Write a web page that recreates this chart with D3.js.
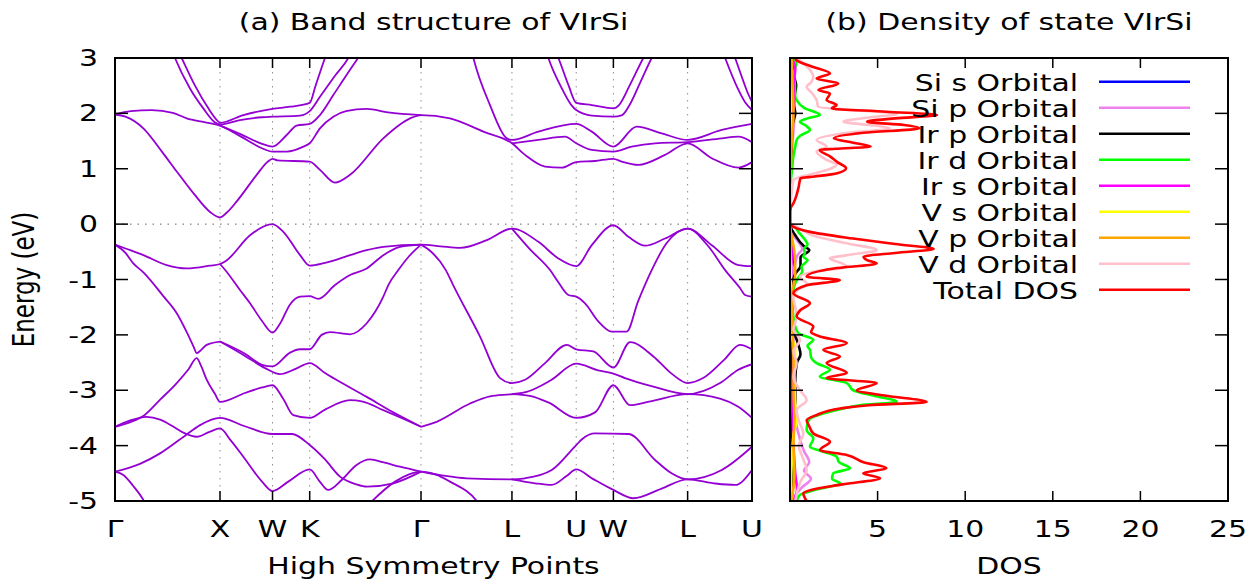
<!DOCTYPE html>
<html>
<head>
<meta charset="utf-8">
<script src="https://cdnjs.cloudflare.com/ajax/libs/d3/7.8.5/d3.min.js"></script>
<style>
body { margin: 0; background: #fff; }
text { font-family: "DejaVu Sans", sans-serif; font-size: 23px; fill: #000; }
</style>
</head>
<body>
<section></section>
<script>
// high symmetry points along the path
var kTicks = [0, 1, 1.5, 1.854, 2.914, 3.780, 4.392, 4.746, 5.453, 6.066];
var kLabels = ["Γ", "X", "W", "K", "Γ", "L", "U", "W", "L", "U"];
var energyTicks = [3, 2, 1, 0, -1, -2, -3, -4, -5];
var dosTicks = [0, 5, 10, 15, 20, 25];
var dosTickLabels = ["", "5", "10", "15", "20", "25"];

// bands, [k, E]
var cbLow = [[0,1.98],[0.1,1.94],[0.27,1.73],[0.45,1.30],[0.588,0.95],[0.75,0.55],[0.905,0.22],[1.0,0.12],[1.06,0.2],[1.159,0.41],[1.349,0.89],[1.45,1.12],[1.5,1.18],[1.55,1.15],[1.854,1.13],[1.952,0.98],[2.095,0.75],[2.238,0.89],[2.555,1.55],[2.81,1.91],[2.914,1.97],[3.19,1.91],[3.508,1.67],[3.78,1.46],[3.905,1.25],[4.095,1.04],[4.254,1.02],[4.392,1.12],[4.571,1.14],[4.746,1.18],[4.825,1.13],[4.984,1.07],[5.238,1.25],[5.453,1.46],[5.683,1.19],[5.936,1.02],[6.066,1.12]];
var cbMid = [[0,1.98],[0.15,2.04],[0.35,2.06],[0.55,2.01],[0.683,1.91],[0.85,1.84],[1.0,1.78],[1.2,1.58],[1.4,1.37],[1.5,1.31],[1.635,1.31],[1.794,1.40],[1.854,1.46],[1.952,1.73],[2.079,1.94],[2.2,2.04],[2.397,2.08],[2.6,2.02],[2.914,1.97]];
var cbMidR = [[3.78,1.46],[4.032,1.52],[4.286,1.58],[4.392,1.46],[4.54,1.34],[4.746,1.31],[4.921,1.40],[5.143,1.46],[5.453,1.48],[5.778,1.55],[5.936,1.58],[6.066,1.48]];
var cbUp = [[1.0,1.78],[1.2,1.62],[1.4,1.45],[1.5,1.40],[1.635,1.61],[1.73,1.78],[1.854,1.81],[1.952,1.97],[2.079,2.33],[2.2,2.68],[2.333,3.05]];
var cbUpR = [[3.40,3.1],[3.413,3.0],[3.571,2.15],[3.73,1.55],[3.78,1.52],[4.032,1.67],[4.392,1.81],[4.54,1.67],[4.746,1.40],[4.968,1.76],[5.206,1.64],[5.453,1.52],[5.778,1.70],[6.066,1.81]];
var cbParX1 = [[0.55,3.1],[0.571,3.0],[0.714,2.45],[0.841,2.09],[0.95,1.84],[1.0,1.80],[1.19,1.88],[1.4,1.93],[1.5,1.94],[1.762,1.96],[1.854,2.04],[1.952,2.30],[2.095,2.68],[2.222,3.0],[2.25,3.1]];
var cbParX2 = [[0.61,3.1],[0.635,3.0],[0.762,2.5],[0.886,2.1],[0.97,1.88],[1.0,1.83],[1.222,1.97],[1.5,2.08],[1.667,2.12],[1.854,2.19],[1.91,2.5],[2.0,3.0],[2.02,3.1]];
var cbParU1 = [[4.11,3.1],[4.127,3.0],[4.25,2.47],[4.35,2.14],[4.392,2.06],[4.54,1.96],[4.746,1.94],[4.83,1.97],[4.9,2.15],[5.0,2.55],[5.111,3.0],[5.14,3.1]];
var cbParU2 = [[4.2,3.1],[4.222,3.0],[4.32,2.5],[4.392,2.19],[4.54,2.15],[4.746,2.09],[4.8,2.15],[4.9,2.5],[5.031,3.0],[5.06,3.1]];
var cbParR1 = [[5.79,3.1],[5.81,3.0],[5.93,2.45],[6.0,2.2],[6.066,2.06]];
var cbParR2 = [[5.885,3.1],[5.905,3.0],[5.98,2.6],[6.03,2.35],[6.066,2.21]];

var vbTop = [[0,-0.37],[0.1,-0.44],[0.27,-0.56],[0.492,-0.74],[0.683,-0.80],[0.905,-0.75],[1.0,-0.72],[1.059,-0.66],[1.286,-0.20],[1.5,0.0],[1.603,-0.14],[1.762,-0.56],[1.854,-0.75],[2.0,-0.70],[2.238,-0.56],[2.397,-0.47],[2.555,-0.41],[2.914,-0.37],[3.1,-0.40],[3.286,-0.43],[3.54,-0.29],[3.78,-0.08],[4.032,-0.32],[4.222,-0.62],[4.392,-0.76],[4.54,-0.38],[4.746,-0.02],[4.889,-0.23],[5.048,-0.39],[5.238,-0.26],[5.453,-0.08],[5.683,-0.38],[5.936,-0.74],[6.066,-0.76]];
var vbXW = [[1.0,-0.72],[1.059,-0.85],[1.19,-1.19],[1.286,-1.43],[1.4,-1.75],[1.5,-1.96],[1.571,-1.80],[1.667,-1.45],[1.762,-1.31],[1.854,-1.30],[1.936,-1.35],[2.095,-1.10],[2.238,-0.92],[2.397,-0.80],[2.555,-0.56],[2.714,-0.41],[2.914,-0.37]];
var vbGX = [[0,-0.37],[0.1,-0.52],[0.174,-0.71],[0.27,-0.87],[0.46,-1.30],[0.588,-1.61],[0.683,-1.95],[0.75,-2.22],[0.778,-2.33],[0.81,-2.29],[0.873,-2.18],[1.0,-2.12]];
var vbP = [[1.0,-2.12],[1.238,-2.38],[1.429,-2.60],[1.571,-2.71],[1.714,-2.62],[1.854,-2.51],[2.0,-2.69],[2.079,-2.78],[2.397,-3.12],[2.65,-3.40],[2.914,-3.66]];
var vbQ = [[1.0,-2.12],[1.238,-2.34],[1.4,-2.54],[1.5,-2.57],[1.667,-2.32],[1.762,-2.26],[1.854,-2.26],[1.968,-2.00],[2.048,-1.95],[2.238,-1.99],[2.397,-1.79],[2.555,-1.31],[2.603,-1.10],[2.698,-0.83],[2.8,-0.58],[2.914,-0.37]];
var vbAnti = [[0,-3.66],[0.14,-3.58],[0.28,-3.45],[0.43,-3.17],[0.588,-2.87],[0.7,-2.62],[0.778,-2.42],[0.82,-2.56],[0.873,-2.81],[0.95,-3.06],[1.0,-3.21],[1.238,-3.05],[1.4,-2.95],[1.5,-2.91],[1.6,-3.15],[1.698,-3.45],[1.854,-3.50],[2.0,-3.35],[2.238,-3.18],[2.35,-3.20],[2.555,-3.36],[2.75,-3.52],[2.914,-3.66]];
var vbMax = [[0,-3.66],[0.14,-3.55],[0.3,-3.48],[0.43,-3.53],[0.55,-3.65],[0.667,-3.78],[0.778,-3.84],[0.9,-3.75],[1.0,-3.69],[1.1,-3.90],[1.222,-4.20],[1.4,-4.65],[1.5,-4.82],[1.65,-4.65],[1.854,-4.43],[1.95,-4.65],[2.029,-4.80],[2.159,-4.62],[2.3,-4.35],[2.429,-4.25],[2.55,-4.30],[2.714,-4.38],[2.914,-4.47]];
var vbRise = [[0,-4.47],[0.238,-4.33],[0.429,-4.14],[0.667,-3.82],[0.81,-3.63],[1.0,-3.50],[1.238,-3.65],[1.5,-3.79],[1.686,-3.79],[1.854,-3.99],[2.0,-4.25],[2.143,-4.56],[2.3,-4.70],[2.397,-4.74],[2.651,-4.68],[2.914,-4.47]];
var vbSteep = [[0,-4.47],[0.08,-4.53],[0.17,-4.72],[0.27,-4.98],[0.33,-5.2]];
var vbParG = [[2.3,-5.3],[2.46,-4.98],[2.667,-4.65],[2.8,-4.52],[2.914,-4.47],[3.05,-4.52],[3.19,-4.65],[3.445,-5.0],[3.55,-5.3]];
var vbGL1 = [[2.914,-0.37],[3.0,-0.48],[3.15,-0.83],[3.22,-1.10],[3.476,-2.03],[3.667,-2.78],[3.78,-2.87],[3.905,-2.81],[4.095,-2.51],[4.302,-2.18],[4.392,-2.26],[4.555,-2.30],[4.746,-2.59],[4.905,-2.13],[5.127,-2.39],[5.3,-2.70],[5.453,-2.87],[5.6,-2.78],[5.8,-2.45],[5.952,-2.18],[6.066,-2.26]];
var vbGL2 = [[2.914,-3.66],[3.063,-3.57],[3.381,-3.24],[3.571,-3.11],[3.78,-3.07],[3.92,-3.03],[4.15,-2.82],[4.392,-2.52],[4.6,-2.64],[4.746,-2.70],[4.857,-2.78],[5.1,-2.92],[5.453,-3.07],[5.762,-2.87],[5.936,-2.63],[6.066,-2.53]];
var vbGL3 = [[3.78,-3.07],[3.95,-3.10],[4.127,-3.22],[4.392,-3.50],[4.571,-3.40],[4.746,-2.91],[4.905,-3.27],[5.1,-3.20],[5.453,-3.07],[5.762,-3.15],[5.936,-3.30],[6.066,-3.50]];
var vbGL4 = [[2.914,-4.47],[3.349,-4.59],[3.78,-4.61],[3.905,-4.59],[4.159,-4.44],[4.392,-3.99],[4.45,-3.88],[4.571,-3.78],[4.889,-3.79],[5.143,-4.26],[5.3,-4.50],[5.453,-4.61],[5.778,-4.44],[6.066,-4.02]];
var vbGL5 = [[3.78,-4.61],[4.0,-4.68],[4.159,-4.71],[4.3,-4.55],[4.392,-4.43],[4.55,-4.60],[4.746,-4.80],[4.936,-4.95],[5.2,-4.78],[5.453,-4.61],[5.7,-4.68],[5.905,-4.71],[6.066,-4.44]];
var vbLU = [[3.78,-0.08],[3.95,-0.45],[4.143,-0.83],[4.222,-1.05],[4.317,-1.28],[4.392,-1.31],[4.476,-1.43],[4.6,-1.75],[4.73,-1.94],[4.873,-1.94],[4.98,-1.40],[5.111,-0.83],[5.25,-0.35],[5.453,-0.08],[5.65,-0.40],[5.81,-0.83],[5.95,-1.15],[6.0,-1.28],[6.066,-1.31]];

var bands = [cbLow, cbMid, cbMidR, cbUp, cbUpR, cbParX1, cbParX2, cbParU1, cbParU2, cbParR1, cbParR2,
  vbTop, vbXW, vbGX, vbP, vbQ, vbAnti, vbMax, vbRise, vbSteep, vbParG, vbGL1, vbGL2, vbGL3, vbGL4, vbGL5, vbLU];

// DOS, [E, states/eV]
var dosSis = [[3,0.05],[2,0.05],[1,0.02],[0.3,0],[0,0],[-0.5,0.2],[-0.8,0.25],[-1.2,0.05],[-2,0.05],[-3,0.05],[-4,0.15],[-4.5,0.2],[-5,0.1]];
var dosSip = [[3,0.05],[2.5,0.1],[2,0.25],[1.5,0.15],[1,0.05],[0.5,0.02],[0,0],[-0.2,0.2],[-0.45,0.7],[-0.55,0.45],[-0.7,0.3],[-1,0.15],[-1.5,0.1],[-2,0.2],[-2.5,0.2],[-3,0.25],[-3.5,0.3],[-3.8,0.5],[-4.1,0.8],[-4.3,1.1],[-4.45,0.8],[-4.6,1.2],[-4.75,0.7],[-4.9,0.3],[-5,0.2]];
var dosIrp = [[3,0.1],[2.7,0.2],[2.5,0.35],[2.2,0.2],[2,0.3],[1.8,0.15],[1.5,0.1],[1,0.05],[0.5,0],[0,0],[-0.2,0.3],[-0.4,0.8],[-0.47,1.1],[-0.6,0.6],[-0.75,0.6],[-0.9,0.3],[-1.1,0.1],[-1.5,0.1],[-1.9,0.2],[-2.2,0.5],[-2.35,0.6],[-2.5,0.4],[-2.8,0.3],[-3.2,0.3],[-3.5,0.15],[-4,0.1],[-4.4,0.15],[-5,0.05]];
var dosIrd = [[3,0.2],[2.9,0.35],[2.7,0.2],[2.54,0.28],[2.3,0.3],[2.24,0.38],[2.1,0.8],[1.97,1.71],[1.91,1.0],[1.85,0.57],[1.78,0.9],[1.7,1.14],[1.6,0.6],[1.52,0.38],[1.4,0.3],[1.22,0.19],[1,0.12],[0.8,0.05],[0.5,0],[0,0.02],[-0.02,0.19],[-0.15,0.5],[-0.3,0.9],[-0.37,1.0],[-0.45,0.8],[-0.52,0.85],[-0.59,0.76],[-0.65,1.0],[-0.77,0.66],[-0.85,0.7],[-1.01,0.38],[-1.19,0.19],[-1.5,0.15],[-1.67,0.19],[-1.85,0.3],[-1.97,0.47],[-2.09,1.33],[-2.2,1.0],[-2.27,1.14],[-2.4,1.2],[-2.51,1.52],[-2.63,2.28],[-2.75,1.71],[-2.87,3.24],[-3,3.61],[-3.1,4.8],[-3.21,6.09],[-3.27,4.0],[-3.33,3.05],[-3.45,1.6],[-3.51,1.14],[-3.6,1.0],[-3.72,0.95],[-3.87,1.33],[-4.02,1.14],[-4.1,1.8],[-4.2,2.66],[-4.3,2.8],[-4.41,3.43],[-4.5,2.47],[-4.6,2.4],[-4.68,2.85],[-4.8,1.4],[-4.89,0.57],[-5,0.38]];
var dosIrs = [[3,0.1],[2.8,0.3],[2.5,0.2],[2.2,0.25],[2,0.15],[1.5,0.05],[0,0],[-0.5,0.1],[-1,0.05],[-2,0.1],[-2.5,0.2],[-3,0.1],[-3.5,0.15],[-4,0.2],[-4.5,0.3],[-4.8,0.4],[-5,0.2]];
var dosVs = [[3,0.05],[2,0.05],[1,0.02],[0,0],[-1,0.05],[-2,0.1],[-2.3,0.3],[-2.6,0.25],[-3.3,0.3],[-3.5,0.4],[-3.8,0.2],[-4.3,0.1],[-5,0.05]];
var dosVp = [[3,0.1],[2.5,0.15],[2,0.2],[1.5,0.1],[1,0.05],[0,0],[-0.5,0.25],[-0.9,0.3],[-1.3,0.1],[-2,0.15],[-2.5,0.2],[-3,0.2],[-3.5,0.25],[-4,0.2],[-4.5,0.25],[-5,0.1]];
var dosVd = [[3,0.4],[2.9,0.76],[2.8,1.1],[2.66,1.33],[2.56,1.2],[2.48,0.95],[2.35,1.3],[2.24,1.52],[2.12,1.6],[2.04,4.5],[1.99,6.1],[1.93,4.6],[1.85,3.05],[1.78,4.8],[1.73,5.7],[1.65,3.3],[1.52,1.52],[1.4,2.09],[1.31,1.52],[1.16,2.09],[1.07,2.66],[1,2.3],[0.95,1.8],[0.85,0.6],[0.8,0.19],[0.6,0.1],[0.4,0.05],[0.2,0],[0,0],[-0.02,0.19],[-0.23,1.52],[-0.35,3.3],[-0.47,4.95],[-0.55,3.5],[-0.62,2.28],[-0.7,2.9],[-0.77,3.24],[-0.85,1.5],[-0.95,0.57],[-1.07,0.95],[-1.2,0.4],[-1.31,0.19],[-1.5,0.3],[-1.67,0.38],[-1.9,0.2],[-2.09,0.57],[-2.3,0.2],[-2.51,0.38],[-2.75,0.2],[-3,0.57],[-3.18,0.95],[-3.36,0.38],[-3.55,0.5],[-3.78,0.76],[-4,0.5],[-4.2,0.7],[-4.44,0.95],[-4.65,0.6],[-4.85,0.4],[-5,0.3]];
var dosTotal = [[3,0.3],[2.96,0.38],[2.85,1.2],[2.72,2.28],[2.63,1.52],[2.54,2.76],[2.42,1.62],[2.36,2.28],[2.24,2.09],[2.15,2.66],[2.09,2.38],[2.03,5.5],[1.97,8.4],[1.91,6.0],[1.85,4.4],[1.79,6.5],[1.73,7.4],[1.65,4.2],[1.55,2.5],[1.47,3.6],[1.4,4.6],[1.36,2.6],[1.34,1.7],[1.22,2.3],[1.12,2.7],[1.01,3.2],[0.92,2.7],[0.86,1.4],[0.83,0.6],[0.68,0.5],[0.5,0.35],[0.38,0.2],[0.3,0.05],[0.2,0],[0,0],[-0.02,0.05],[-0.14,1.14],[-0.26,3.6],[-0.36,6.0],[-0.45,8.2],[-0.52,6.0],[-0.59,4.2],[-0.65,4.4],[-0.71,4.95],[-0.8,2.5],[-0.95,0.95],[-1.01,2.85],[-1.1,1.0],[-1.25,0.19],[-1.43,1.14],[-1.55,0.6],[-1.67,0.38],[-1.85,1.33],[-1.95,1.2],[-2.03,1.71],[-2.15,3.24],[-2.27,1.9],[-2.39,2.85],[-2.51,2.09],[-2.69,3.24],[-2.78,2.09],[-2.87,4.95],[-3,3.81],[-3.1,5.5],[-3.21,7.8],[-3.27,4.5],[-3.33,2.85],[-3.45,1.5],[-3.54,0.95],[-3.65,1.1],[-3.78,1.33],[-3.93,2.28],[-4.08,1.71],[-4.17,3.24],[-4.3,4.2],[-4.41,5.5],[-4.5,4.18],[-4.59,5.14],[-4.7,3.0],[-4.8,1.2],[-4.86,0.76],[-5,0.95]];

var dosNames = ["Si s Orbital", "Si p Orbital", "Ir p Orbital", "Ir d Orbital", "Ir s Orbital", "V s Orbital", "V p Orbital", "V d Orbital", "Total DOS"];
var dosColors = ["#0000ff", "#ee82ee", "#000000", "#00ff00", "#ff00ff", "#ffff00", "#ffa500", "#ffc0cb", "#ff0000"];
var dosSeries = [dosSis, dosSip, dosIrp, dosIrd, dosIrs, dosVs, dosVp, dosVd, dosTotal];

// layout
var W = 1256, H = 583;
var yTop = 58, yBottom = 501;
var bandLeft = 115, bandRight = 752;
var dosLeft = 790, dosRight = 1228;
var sx = 1.3; // the original output is stretched sideways

var svg = d3.select("section").append("svg")
  .attr("width", W).attr("height", H);

var x = d3.scaleLinear().domain([0, 6.066]).range([bandLeft, bandRight]);
var y = d3.scaleLinear().domain([-5, 3]).range([yBottom, yTop]);
var xd = d3.scaleLinear().domain([0, 25]).range([dosLeft, dosRight]);

function label(g, px, py, str, anchor, rot) {
  g.append("text")
    .attr("transform", "translate(" + px + "," + py + ") scale(" + sx + ",1)" + (rot ? " rotate(" + rot + ")" : ""))
    .attr("text-anchor", anchor)
    .text(str);
}

var defs = svg.append("defs");
defs.append("clipPath").attr("id", "clipBand").append("rect")
  .attr("x", bandLeft).attr("y", yTop).attr("width", bandRight - bandLeft).attr("height", yBottom - yTop);
defs.append("clipPath").attr("id", "clipDos").append("rect")
  .attr("x", dosLeft).attr("y", yTop).attr("width", dosRight - dosLeft).attr("height", yBottom - yTop);

// ---- band structure panel
var gb = svg.append("g");

// grid
gb.selectAll(".vgrid")
  .data(kTicks.slice(1, -1))
  .enter().append("line")
  .attr("x1", function(d) { return x(d); }).attr("x2", function(d) { return x(d); })
  .attr("y1", yTop).attr("y2", yBottom)
  .attr("stroke", "#909090").attr("stroke-width", 1).attr("stroke-dasharray", "1.5,5.5");
gb.append("line")
  .attr("x1", bandLeft).attr("x2", bandRight).attr("y1", y(0)).attr("y2", y(0))
  .attr("stroke", "#606060").attr("stroke-width", 1).attr("stroke-dasharray", "1.5,6");

var bandLine = d3.line()
  .x(function(d) { return x(d[0]); })
  .y(function(d) { return y(d[1]); })
  .curve(d3.curveMonotoneX);

gb.append("g").attr("clip-path", "url(#clipBand)")
  .selectAll("path")
  .data(bands)
  .enter().append("path")
  .attr("d", bandLine)
  .attr("fill", "none")
  .attr("stroke", "#9400d3")
  .attr("stroke-width", 1.8);

// ticks
kTicks.forEach(function(k) {
  gb.append("line").attr("x1", x(k)).attr("x2", x(k)).attr("y1", yTop).attr("y2", yTop + 10).attr("stroke", "#000").attr("stroke-width", 1.5);
  gb.append("line").attr("x1", x(k)).attr("x2", x(k)).attr("y1", yBottom).attr("y2", yBottom - 10).attr("stroke", "#000").attr("stroke-width", 1.5);
});
energyTicks.forEach(function(e) {
  gb.append("line").attr("x1", bandLeft).attr("x2", bandLeft + 13).attr("y1", y(e)).attr("y2", y(e)).attr("stroke", "#000").attr("stroke-width", 1.5);
  gb.append("line").attr("x1", bandRight).attr("x2", bandRight - 13).attr("y1", y(e)).attr("y2", y(e)).attr("stroke", "#000").attr("stroke-width", 1.5);
  label(gb, 98, y(e) + 8, String(e), "end");
});
kTicks.forEach(function(k, i) {
  label(gb, x(k), 537, kLabels[i], "middle");
});

gb.append("rect")
  .attr("x", bandLeft).attr("y", yTop).attr("width", bandRight - bandLeft).attr("height", yBottom - yTop)
  .attr("fill", "none").attr("stroke", "#000").attr("stroke-width", 2);

label(gb, (bandLeft + bandRight) / 2, 30, "(a) Band structure of VIrSi", "middle");
label(gb, (bandLeft + bandRight) / 2, 574, "High Symmetry Points", "middle");
label(gb, 34, (yTop + yBottom) / 2, "Energy (eV)", "middle", -90);

// ---- DOS panel
var gd = svg.append("g");

var dosLine = d3.line()
  .x(function(d) { return xd(d[1]); })
  .y(function(d) { return y(d[0]); })
  .curve(d3.curveMonotoneY);

gd.append("g").attr("clip-path", "url(#clipDos)")
  .selectAll("path")
  .data(dosSeries)
  .enter().append("path")
  .attr("d", dosLine)
  .attr("fill", "none")
  .attr("stroke", function(d, i) { return dosColors[i]; })
  .attr("stroke-width", 2.6)
  .attr("stroke-linejoin", "round");

dosTicks.forEach(function(v, i) {
  gd.append("line").attr("x1", xd(v)).attr("x2", xd(v)).attr("y1", yTop).attr("y2", yTop + 10).attr("stroke", "#000").attr("stroke-width", 1.5);
  gd.append("line").attr("x1", xd(v)).attr("x2", xd(v)).attr("y1", yBottom).attr("y2", yBottom - 10).attr("stroke", "#000").attr("stroke-width", 1.5);
  label(gd, xd(v), 537, dosTickLabels[i], "middle");
});
energyTicks.forEach(function(e) {
  gd.append("line").attr("x1", dosLeft).attr("x2", dosLeft + 13).attr("y1", y(e)).attr("y2", y(e)).attr("stroke", "#000").attr("stroke-width", 1.5);
  gd.append("line").attr("x1", dosRight).attr("x2", dosRight - 13).attr("y1", y(e)).attr("y2", y(e)).attr("stroke", "#000").attr("stroke-width", 1.5);
});

// legend
var legend = gd.append("g");
dosNames.forEach(function(name, i) {
  var ly = 81.7 + i * 26;
  legend.append("line")
    .attr("x1", 1099).attr("x2", 1190).attr("y1", ly).attr("y2", ly)
    .attr("stroke", dosColors[i]).attr("stroke-width", 2.6);
  label(legend, 1078, ly + 9, name, "end");
});

gd.append("rect")
  .attr("x", dosLeft).attr("y", yTop).attr("width", dosRight - dosLeft).attr("height", yBottom - yTop)
  .attr("fill", "none").attr("stroke", "#000").attr("stroke-width", 2);

label(gd, (dosLeft + dosRight) / 2, 30, "(b) Density of state VIrSi", "middle");
label(gd, (dosLeft + dosRight) / 2, 574, "DOS", "middle");
</script>
</body>
</html>
